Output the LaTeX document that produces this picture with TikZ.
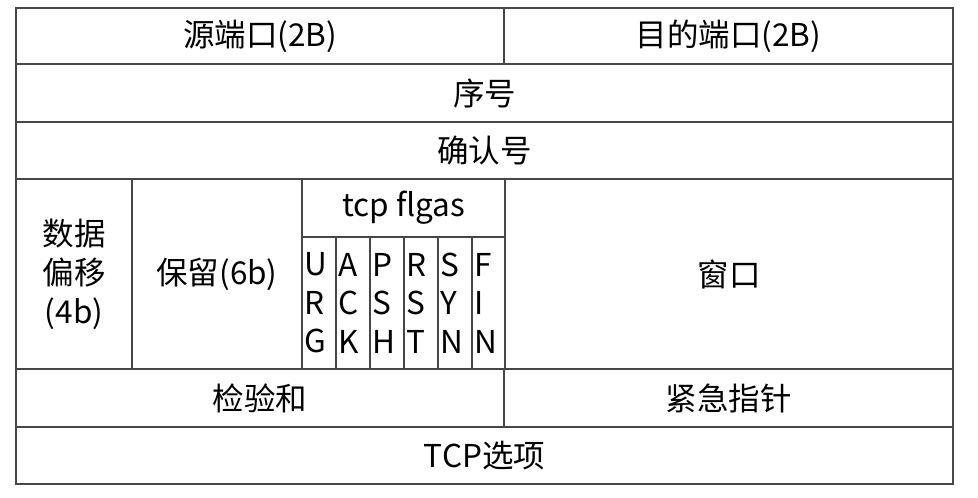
\documentclass[tikz,border=0pt]{standalone}
\usepackage{fontspec}
\setmainfont{Noto Sans CJK SC}
\begin{document}
\begin{tikzpicture}[x=1pt,y=-1pt,
  linec/.style={draw=black!72},
  cell/.style={linec, line width=1.3pt, inner sep=0pt, font=\fontsize{31.5}{39}\selectfont, align=center},
  flagcell/.style={linec, line width=1.3pt, inner sep=0pt, inner xsep=2.5pt, text width=29pt, align=left, font=\fontsize{31.5}{38.5}\selectfont}]
\useasboundingbox (0,0) rectangle (978,498);
% row 1
\node[cell, minimum width=488pt, minimum height=56pt] (src) at (260,36) {源端口(2B)};
\node[cell, minimum width=449pt, minimum height=56pt] (dst) at (728.5,36) {目的端口(2B)};
% row 2
\node[cell, minimum width=937pt, minimum height=58pt] (seq) at (484.5,93) {序号};
% row 3
\node[cell, minimum width=937pt, minimum height=57pt] (ack) at (484.5,150.5) {确认号};
% row 4
\node[cell, minimum width=116pt, minimum height=190pt] (off) at (74,274) {数据\\偏移\\(4b)};
\node[cell, minimum width=170pt, minimum height=190pt] (res) at (217,274) {保留(6b)};
\node[cell, minimum width=203pt, minimum height=58pt] (flg) at (403.5,208) {tcp flgas};
\node[flagcell, minimum width=34pt, minimum height=132pt] (urg) at (319,303) {U\\R\\G};
\node[flagcell, minimum width=34pt, minimum height=132pt] (ackf) at (353,303) {A\\C\\K};
\node[flagcell, minimum width=34pt, minimum height=132pt] (psh) at (387,303) {P\\S\\H};
\node[flagcell, minimum width=34pt, minimum height=132pt] (rst) at (421,303) {R\\S\\T};
\node[flagcell, minimum width=34pt, minimum height=132pt] (syn) at (455,303) {S\\Y\\N};
\node[flagcell, minimum width=33pt, minimum height=132pt] (fin) at (488.5,303) {F\\I\\N};
\node[cell, minimum width=448pt, minimum height=190pt] (win) at (729,274) {窗口};
% row 5
\node[cell, minimum width=488pt, minimum height=58pt] (chk) at (260,398) {检验和};
\node[cell, minimum width=449pt, minimum height=58pt] (urgp) at (728.5,398) {紧急指针};
% row 6
\node[cell, minimum width=937pt, minimum height=57pt] (opt) at (484.5,455.5) {TCP选项};
\end{tikzpicture}
\end{document}
